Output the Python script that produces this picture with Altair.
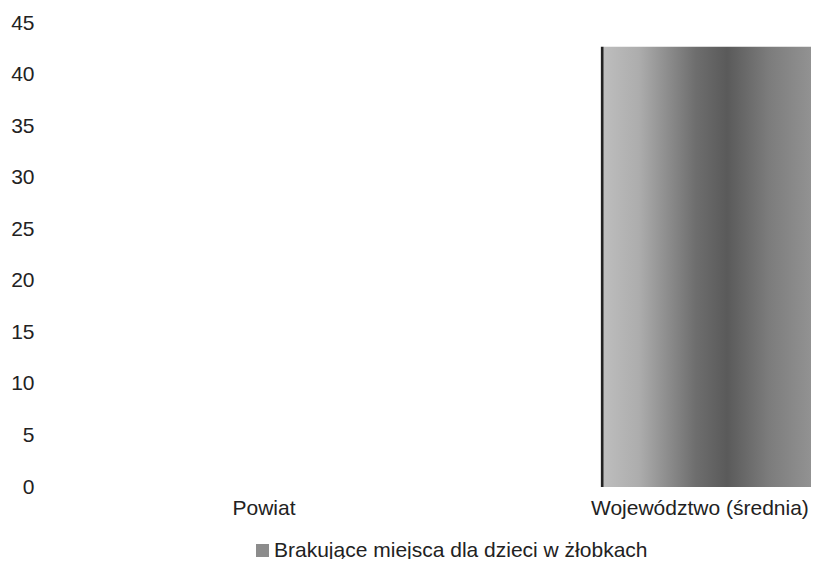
import altair as alt
import pandas as pd

categories = ["Powiat", "Województwo (średnia)"]
values = [0, 42.7]
series_name = "Brakujące miejsca dla dzieci w żłobkach"
y_ticks = [0, 5, 10, 15, 20, 25, 30, 35, 40, 45]

df = pd.DataFrame({
    "kategoria": categories,
    "wartosc": values,
    "seria": [series_name] * len(categories),
})

FONT = "Liberation Sans"
TXT = "#222222"

gradient = alt.LinearGradient(
    gradient="linear", x1=0, x2=1, y1=0, y2=0,
    stops=[
        alt.GradientStop(color="#222222", offset=0),
        alt.GradientStop(color="#222222", offset=0.01),
        alt.GradientStop(color="#bdbdbd", offset=0.015),
        alt.GradientStop(color="#adadad", offset=0.18),
        alt.GradientStop(color="#6e6e6e", offset=0.45),
        alt.GradientStop(color="#5a5a5a", offset=0.6),
        alt.GradientStop(color="#7c7c7c", offset=0.8),
        alt.GradientStop(color="#929292", offset=1),
    ],
)

x = alt.X(
    "kategoria:N", sort=categories, title=None,
    scale=alt.Scale(paddingInner=0.518, paddingOuter=0.1375, align=1),
    axis=alt.Axis(labelAngle=0, domain=False, ticks=False, tickSize=0,
                  labelPadding=10, labelFontSize=21, labelColor=TXT,
                  labelFont=FONT, labelLimit=500, labelOffset=-6),
)
y = alt.Y(
    "wartosc:Q", title=None,
    scale=alt.Scale(domain=[0, 45], nice=False, zero=True),
    axis=alt.Axis(values=y_ticks, grid=False, domain=False, ticks=False,
                  tickSize=0, labelPadding=11, labelFontSize=21,
                  labelColor=TXT, labelFont=FONT),
)

bars = alt.Chart(df).mark_bar(fill=gradient).encode(x=x, y=y)

legend_layer = alt.Chart(df).mark_bar(opacity=0).encode(
    x=x, y=y,
    color=alt.Color(
        "seria:N", scale=alt.Scale(range=["#8c8c8c"]),
        legend=alt.Legend(title=None, orient="none", legendX=207, legendY=517,
                          symbolType="square", symbolSize=169, symbolOpacity=1,
                          symbolStrokeWidth=0, labelFontSize=21, labelFont=FONT,
                          labelColor=TXT, labelOffset=1, labelLimit=600,
                          padding=0),
    ),
)

chart = alt.layer(bars, legend_layer).properties(
    width=766, height=464,
    padding={"left": 37, "top": 15, "right": 0, "bottom": 72},
    autosize=alt.AutoSizeParams(type="none"),
).configure_view(stroke=None)

chart.save("out.html", embed_options={"renderer": "svg", "actions": False})
